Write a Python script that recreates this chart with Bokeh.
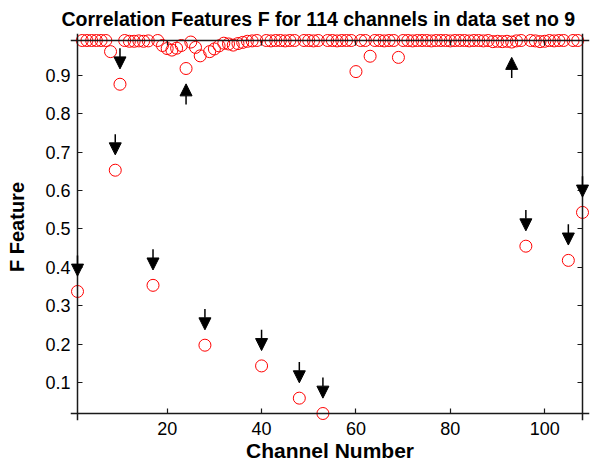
from bokeh.plotting import figure
from bokeh.models import (Range1d, LinearAxis, FixedTicker, ColumnDataSource, Arrow, NormalHead,
                          CustomJSTickFormatter)
from bokeh.embed import file_html
from bokeh.resources import INLINE

# ---------------- data ----------------
channels = list(range(1, 109))
f_feature = [
    0.337, 0.991, 0.991, 0.991, 0.991, 0.991, 0.991, 0.962, 0.653, 0.877,   # 1-10
    0.991, 0.989, 0.989, 0.990, 0.989, 0.990, 0.353, 0.991, 0.978, 0.970,   # 11-20
    0.966, 0.971, 0.978, 0.918, 0.987, 0.973, 0.951, 0.197, 0.962, 0.969,   # 21-30
    0.977, 0.984, 0.982, 0.979, 0.983, 0.986, 0.989, 0.990, 0.991, 0.143,   # 31-40
    0.991, 0.990, 0.991, 0.991, 0.990, 0.991, 0.991, 0.059, 0.991, 0.991,   # 41-50
    0.990, 0.991, 0.019, 0.991, 0.991, 0.990, 0.991, 0.991, 0.991, 0.910,   # 51-60
    0.991, 0.991, 0.950, 0.991, 0.991, 0.990, 0.991, 0.991, 0.947, 0.991,   # 61-70
    0.991, 0.990, 0.991, 0.991, 0.991, 0.990, 0.991, 0.991, 0.991, 0.990,   # 71-80
    0.991, 0.991, 0.991, 0.990, 0.991, 0.991, 0.990, 0.991, 0.988, 0.989,   # 81-90
    0.988, 0.989, 0.987, 0.990, 0.991, 0.455, 0.991, 0.990, 0.988, 0.989,   # 91-100
    0.991, 0.990, 0.991, 0.991, 0.418, 0.991, 0.991, 0.543,                 # 101-108
]
x_ticks = [20, 40, 60, 80, 100]
y_ticks = [0.1, 0.2, 0.3, 0.4, 0.5, 0.6, 0.7, 0.8, 0.9]
down_arrow_channels = [1, 9, 10, 17, 28, 40, 48, 53, 96, 105, 108]
up_arrow_channels = [24, 93]

title_text = "Correlation Features F for 114 channels in data set no 9"
x_label = "Channel Number"
y_label = "F Feature"

# ---------------- layout helpers ----------------
FONT = "Liberation Sans"
x_min, x_max = channels[0], channels[-1]
y_min, y_max = min(f_feature), max(f_feature)
box_w, box_h = 505.0, 373.0
PAD = 7
xu = (x_max - x_min) / box_w
yu = (y_max - y_min) / box_h
x_range = Range1d(x_min - PAD * xu, x_max + PAD * xu)
y_range = Range1d(y_min - PAD * yu, y_max + PAD * yu)

p = figure(width=590, height=466, x_range=x_range, y_range=y_range,
           output_backend="svg", toolbar_location=None,
           min_border_left=70, min_border_right=1, min_border_top=33, min_border_bottom=46,
           background_fill_color="white", border_fill_color="white")
p.outline_line_color = None
p.xgrid.visible = False
p.ygrid.visible = False

p.title.text = title_text
p.title.text_font = FONT
p.title.text_font_size = "19.5px"
p.title.text_font_style = "bold"
p.title.text_color = "black"
p.title.align = "left"
p.title.standoff = 7
p.title.offset = -9

AX_COL = "#1a1a1a"
blank = CustomJSTickFormatter(code="return ''")

# label-only axes at the frame edges
xa = p.xaxis[0]
xa.ticker = FixedTicker(ticks=x_ticks)
xa.axis_label = x_label
ya = p.yaxis[0]
ya.ticker = FixedTicker(ticks=y_ticks)
ya.axis_label = y_label
for ax in (xa, ya):
    ax.axis_line_color = None
    ax.major_tick_line_color = None
    ax.minor_tick_line_color = None
    ax.major_tick_in = 0
    ax.major_tick_out = 0
    ax.major_label_text_font = FONT
    ax.major_label_text_font_size = "18px"
    ax.major_label_text_color = "black"
    ax.axis_label_text_font = FONT
    ax.axis_label_text_font_style = "bold"
    ax.axis_label_text_color = "black"
xa.axis_label_text_font_size = "21px"
ya.axis_label_text_font_size = "20px"
xa.major_label_standoff = 1
xa.axis_label_standoff = 1
ya.major_label_standoff = 0
ya.axis_label_standoff = 14

# box lines with inward ticks, placed on the data limits
def box_axis(ticks, loc, side):
    ax = LinearAxis(ticker=FixedTicker(ticks=ticks), fixed_location=loc, formatter=blank)
    ax.axis_line_color = AX_COL
    ax.axis_line_width = 1.5
    ax.major_tick_line_color = AX_COL
    ax.major_tick_line_width = 1.2
    ax.major_tick_in = 5
    ax.major_tick_out = 0
    ax.minor_tick_line_color = None
    ax.major_label_standoff = 0
    p.add_layout(ax, side)

box_axis(x_ticks, y_min, "below")
box_axis(y_ticks, x_min, "left")
box_axis(x_ticks, y_max, "above")
box_axis(y_ticks, x_max, "right")

# ---------------- marks ----------------
src = ColumnDataSource(data=dict(ch=channels, f=f_feature))
p.scatter("ch", "f", source=src, marker="circle", size=12,
          fill_color=None, line_color="#ff0000", line_width=1)

val = dict(zip(channels, f_feature))
tip_off, tail_off = 0.040, 0.094
ax_s, ay_s, ax_e, ay_e = [], [], [], []
for c in down_arrow_channels:
    ax_s.append(c); ay_s.append(val[c] + tail_off)
    ax_e.append(c); ay_e.append(val[c] + tip_off)
for c in up_arrow_channels:
    ax_s.append(c); ay_s.append(val[c] - tail_off)
    ax_e.append(c); ay_e.append(val[c] - tip_off)
arrow_src = ColumnDataSource(data=dict(x0=ax_s, y0=ay_s, x1=ax_e, y1=ay_e))
p.add_layout(Arrow(x_start="x0", y_start="y0", x_end="x1", y_end="y1", source=arrow_src,
                   line_color="black", line_width=1.5,
                   end=NormalHead(size=12, fill_color="black", fill_alpha=1.0,
                                  line_color="black", line_width=1)))

open("out.html", "w").write(file_html(p, INLINE))
